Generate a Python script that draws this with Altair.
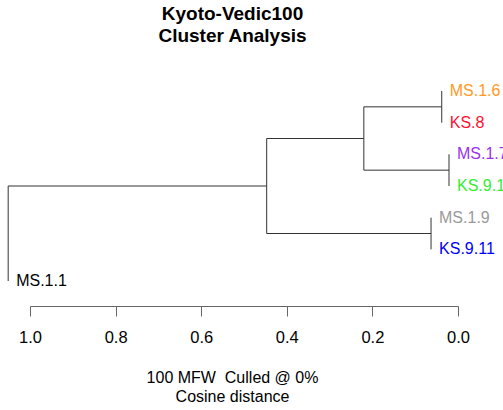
import altair as alt
import pandas as pd

# Leaves in drawing order (top to bottom) and their label colours
leaf_labels = ["MS.1.6", "KS.8", "MS.1.7", "KS.9.1", "MS.1.9", "KS.9.11", "MS.1.1"]
leaf_colors = ["#FF9922", "#FF1030", "#9B30F0", "#33EE33", "#9A9A9A", "#0000FF", "#000000"]

# hclust-style merges: negative = leaf (1-based), positive = earlier merge
merge_left = [-3, -1, -5, 2, 4, 5]
merge_right = [-4, -2, -6, 1, 3, -7]
merge_height = [0.021, 0.038, 0.063, 0.220, 0.447, 1.051]

tick_values = [0.0, 0.2, 0.4, 0.6, 0.8, 1.0]

# Build elbow segments and label positions from the merge table
node_y = {}
node_h = {}
segments = []
label_rows = []
for i, (a, b, h) in enumerate(zip(merge_left, merge_right, merge_height), start=1):
    ys = []
    for c in (a, b):
        if c < 0:
            y = -c - 1
            label_rows.append({"label": leaf_labels[y], "h": h, "y": y})
        else:
            y = node_y[c]
            segments.append({"x1": h, "x2": node_h[c], "y1": y, "y2": y})
        ys.append(y)
    segments.append({"x1": h, "x2": h, "y1": ys[0], "y2": ys[1]})
    node_y[i] = (ys[0] + ys[1]) / 2
    node_h[i] = h

seg_df = pd.DataFrame(segments)
lab_df = pd.DataFrame(label_rows)

FONT = "Liberation Sans"

x_scale = alt.Scale(domain=[0, 1], range=[458, 30], clamp=False, nice=False, zero=False)
y_scale = alt.Scale(domain=[0, 6], range=[45, 235], nice=False, zero=False)

branches = alt.Chart(seg_df).mark_rule(color="#333333", strokeWidth=1).encode(
    x=alt.X(
        "x1:Q",
        scale=x_scale,
        axis=alt.Axis(
            values=tick_values,
            format=".1f",
            grid=False,
            tickSize=10,
            tickColor="#666666",
            domainColor="#666666",
            labelColor="#000000",
            labelFont=FONT,
            labelFontSize=16.5,
            labelBaseline="middle",
            labelPadding=21,
            labelFlush=False,
            title=["100 MFW\u00a0 Culled @ 0%", "Cosine distance"],
            titleFont=FONT,
            titleFontSize=16,
            titleFontWeight="normal",
            titleColor="#000000",
            titleLineHeight=19.4,
            titleBaseline="middle",
            titleX=232,
            titleY=71,
        ),
    ),
    x2="x2:Q",
    y=alt.Y("y1:Q", scale=y_scale, axis=None),
    y2="y2:Q",
)

labels = alt.Chart(lab_df).mark_text(
    align="left", baseline="middle", dx=8, fontSize=16, font=FONT
).encode(
    x=alt.X("h:Q", scale=x_scale),
    y=alt.Y("y:Q", scale=y_scale, axis=None),
    text="label:N",
    color=alt.Color(
        "label:N",
        scale=alt.Scale(domain=leaf_labels, range=leaf_colors),
        legend=None,
    ),
)

chart = (
    alt.layer(branches, labels)
    .properties(
        width=503,
        height=260,
        background="white",
        autosize=alt.AutoSizeParams(type="none"),
        padding={"left": 0, "right": 0, "top": 46, "bottom": 104},
        title=alt.TitleParams(
            text=["Kyoto-Vedic100", "Cluster Analysis"],
            font=FONT,
            fontSize=19,
            fontWeight="bold",
            color="#000000",
            lineHeight=22.4,
            anchor="middle",
            dx=-19,
            dy=4,
            offset=4,
        ),
    )
    .configure_view(stroke=None, strokeWidth=0)
)

chart.save("out.html", embed_options={"renderer": "svg", "actions": False})
